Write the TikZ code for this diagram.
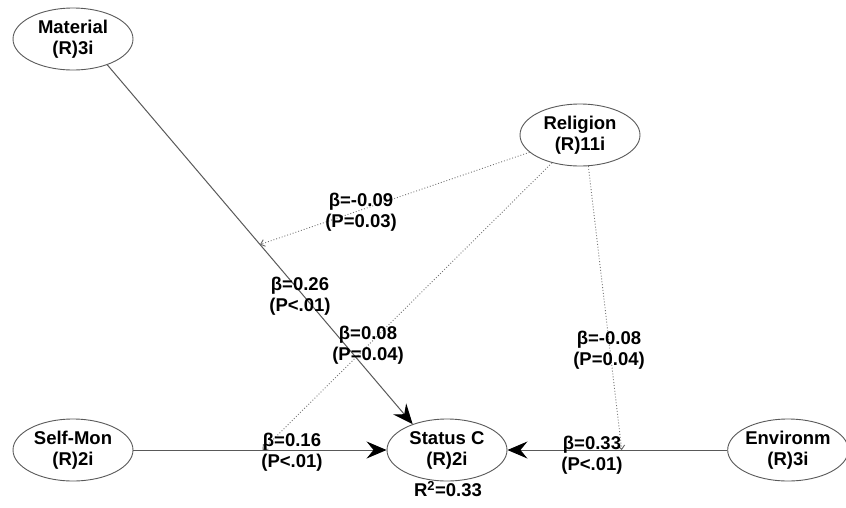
\documentclass[tikz,border=0pt]{standalone}
\usepackage{fontspec}
\setmainfont{Liberation Sans}
\usetikzlibrary{shapes.geometric,arrows.meta}
\begin{document}
\begin{tikzpicture}[x=1pt,y=-1pt,
  latent/.style={ellipse, draw=black!65, line width=0.9pt, minimum width=120pt, minimum height=62pt, inner sep=0pt, align=center, font=\fontsize{18.5}{21}\selectfont\bfseries},
  lbl/.style={align=center, font=\fontsize{18.5}{21}\selectfont\bfseries, inner sep=0pt},
  effect/.style={draw=black!65, line width=1pt, -{Stealth[length=20pt,width=17pt,inset=7pt,color=black]}},
  moder/.style={draw=black!55, line width=0.9pt, dotted, -{Straight Barb[length=4pt,width=7pt,color=black!60]}}
]
\useasboundingbox[fill=white] (0,0) rectangle (846,507);

% constructs
\node[latent] (mat)  at (73,39)   {Material\\(R)3i};
\node[latent] (rel)  at (580,135) {Religion\\(R)11i};
\node[latent] (self) at (73,450)  {Self-Mon\\(R)2i};
\node[latent] (stat) at (447,450) {Status C\\(R)2i};
\node[latent] (env)  at (788,450) {Environm\\(R)3i};

% direct effects
\draw[effect] (mat.-37) -- (stat.143) coordinate[pos=0.5] (m1);
\draw[effect] (self.east) -- (stat.west) coordinate[pos=0.51] (m2);
\draw[effect] (env.west) -- (stat.east) coordinate[pos=0.48] (m3);

% moderating effects
\draw[moder] (rel) -- (m1);
\draw[moder] (rel) -- (m2);
\draw[moder] (rel.-75) -- (m3);

% labels
\node[lbl] (b1) at (361,212) {β=-0.09\\(P=0.03)};
\node[lbl] (b2) at (300,296) {β=0.26\\(P<.01)};
\node[lbl] (b3) at (368,345) {β=0.08\\(P=0.04)};
\node[lbl] (b4) at (292,452) {β=0.16\\(P<.01)};
\node[lbl] (b5) at (592,455) {β=0.33\\(P<.01)};
\node[lbl] (b6) at (609,350) {β=-0.08\\(P=0.04)};
\node[lbl] (r2) at (448,489) {R\textsuperscript{2}=0.33};
\end{tikzpicture}
\end{document}
